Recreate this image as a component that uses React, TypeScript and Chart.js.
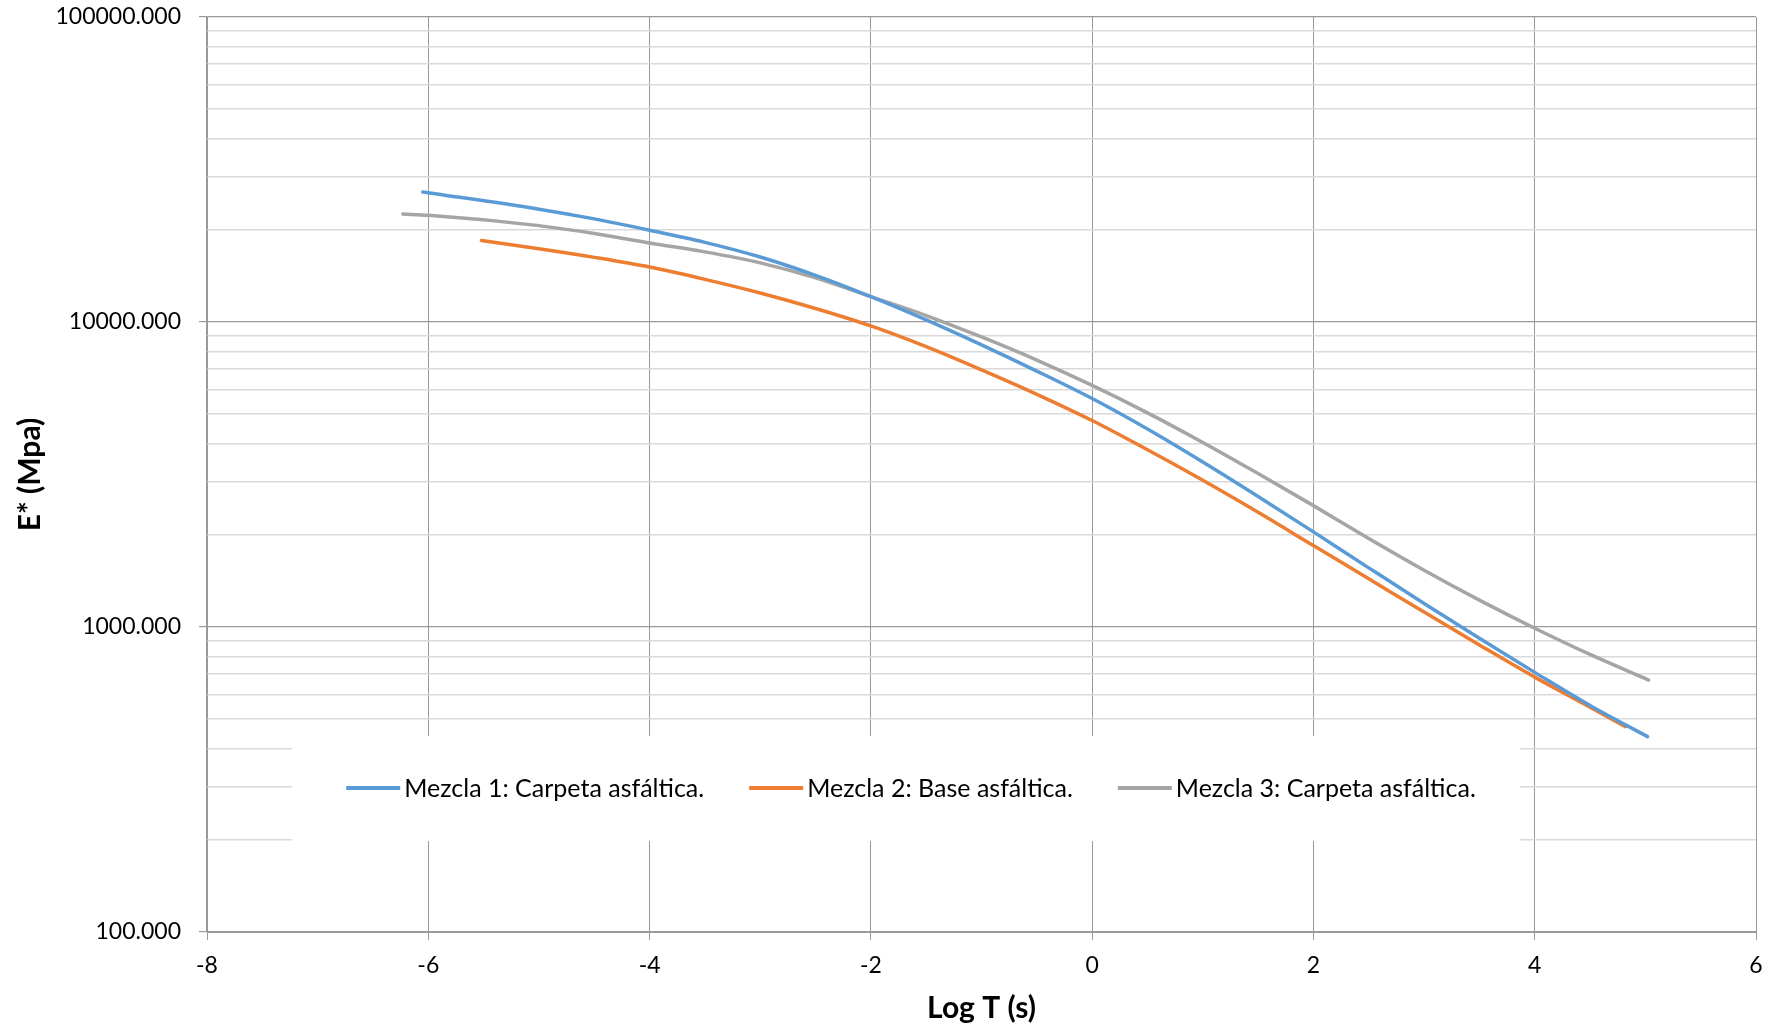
import React, { useEffect, useRef } from 'react';
import { Chart, registerables } from 'chart.js';

Chart.register(...registerables);

// ---- Data ----
const mezcla1LogT = [-6.05, -5, -4.5, -4, -3.5, -3, -2.5, -2, -1.5, -1, -0.5, 0, 0.5, 1, 1.5, 2, 2.5, 3, 3.5, 4, 4.5, 5.02];
const mezcla1E = [26700, 23440, 21780, 20000, 18240, 16330, 14220, 12110, 10160, 8414, 6902, 5610, 4457, 3475, 2679, 2051, 1563, 1194, 918, 710, 553, 437];

const mezcla2LogT = [-5.52, -5, -4.5, -4, -3.5, -3, -2.5, -2, -1.5, -1, -0.5, 0, 0.5, 1, 1.5, 2, 2.5, 3, 3.5, 4, 4.5, 4.82];
const mezcla2E = [18490, 17380, 16290, 15140, 13800, 12450, 11070, 9705, 8299, 6966, 5794, 4753, 3811, 3027, 2377, 1849, 1439, 1119, 873, 685, 546, 471];

const mezcla3LogT = [-6.23, -6, -5, -4.5, -4, -3.5, -3, -2.5, -2, -1.5, -1, -0.5, 0, 0.5, 1, 1.5, 2, 2.5, 3, 3.5, 4, 4.5, 5.03];
const mezcla3E = [22590, 22390, 20700, 19500, 18160, 16980, 15630, 13960, 12110, 10500, 8930, 7500, 6194, 5035, 4027, 3184, 2500, 1950, 1535, 1225, 991, 813, 670];

const seriesLabels = [
  'Mezcla 1: Carpeta asfáltica.',
  'Mezcla 2: Base asfáltica.',
  'Mezcla 3: Carpeta asfáltica.',
];
const seriesColors = ['#5B9BD5', '#ED7D31', '#A5A5A5'];

const xMin = -8;
const xMax = 6;
const xStep = 2;
const yMin = 100;
const yMax = 100000;

const xTitle = 'Log T (s)';
const yTitle = 'E* (Mpa)';

const FONT = 'Lato, "Open Sans", "DejaVu Sans", sans-serif';

const isDecade = (v: number) => {
  const l = Math.log10(v);
  return Math.abs(l - Math.round(l)) < 1e-9;
};

const toPoints = (xs: number[], ys: number[]) => xs.map((x, i) => ({ x, y: ys[i] }));

const legendBoxPlugin = {
  id: 'legendBox',
  afterDatasetsDraw(chart: any) {
    const ctx: CanvasRenderingContext2D = chart.ctx;
    const box = { left: 292, top: 736, right: 1520, bottom: 841 };
    ctx.save();
    ctx.fillStyle = '#ffffff';
    ctx.fillRect(box.left, box.top, box.right - box.left, box.bottom - box.top);
    ctx.font = `25px ${FONT}`;
    const sample = 54;
    const gapText = 4;
    const gapItem = 45;
    const items = chart.data.datasets.map((ds: any) => ({
      label: ds.label as string,
      color: ds.borderColor as string,
      w: ctx.measureText(ds.label).width,
    }));
    const total =
      items.reduce((s: number, it: any) => s + sample + gapText + it.w, 0) + gapItem * (items.length - 1);
    let x = (box.left + box.right) / 2 + 5 - total / 2;
    const y = 788;
    ctx.textBaseline = 'middle';
    ctx.textAlign = 'left';
    for (const it of items) {
      ctx.strokeStyle = it.color;
      ctx.lineWidth = 4;
      ctx.lineCap = 'butt';
      ctx.beginPath();
      ctx.moveTo(x, y);
      ctx.lineTo(x + sample, y);
      ctx.stroke();
      x += sample + gapText;
      ctx.fillStyle = '#000000';
      ctx.fillText(it.label, x, y + 1);
      x += it.w + gapItem;
    }
    ctx.restore();
  },
};

export default function App() {
  const canvasRef = useRef<HTMLCanvasElement | null>(null);

  useEffect(() => {
    if (!canvasRef.current) return;
    const datasets = [
      toPoints(mezcla1LogT, mezcla1E),
      toPoints(mezcla2LogT, mezcla2E),
      toPoints(mezcla3LogT, mezcla3E),
    ].map((data, i) => ({
      label: seriesLabels[i],
      data,
      borderColor: seriesColors[i],
      backgroundColor: seriesColors[i],
      borderWidth: 3.5,
      pointRadius: 0,
      pointHoverRadius: 0,
      cubicInterpolationMode: 'monotone' as const,
      borderCapStyle: 'round' as const,
      borderJoinStyle: 'round' as const,
      fill: false,
    }));

    const chart = new Chart(canvasRef.current, {
      type: 'line',
      data: { datasets },
      plugins: [legendBoxPlugin],
      options: {
        animation: false,
        responsive: false,
        devicePixelRatio: 1,
        layout: { padding: { left: 0, right: 15, top: 17, bottom: 0 } },
        plugins: {
          legend: { display: false },
          title: { display: false },
          tooltip: { enabled: false },
        },
        scales: {
          x: {
            type: 'linear',
            min: xMin,
            max: xMax,
            afterFit: (scale: any) => {
              scale.height = 99;
              scale.paddingLeft = 0;
              scale.paddingRight = 0;
            },
            ticks: {
              stepSize: xStep,
              color: '#000000',
              font: { family: FONT, size: 23 },
              padding: 12,
              maxRotation: 0,
            },
            grid: {
              color: '#999999',
              lineWidth: 1,
              tickLength: 8,
              tickColor: '#999999',
            },
            border: { display: true, color: '#999999', width: 1 },
            title: {
              display: true,
              text: xTitle,
              color: '#000000',
              font: { family: FONT, size: 30, weight: 'bold' },
              padding: { top: 0, bottom: 4.5 },
            },
          },
          y: {
            type: 'logarithmic',
            min: yMin,
            max: yMax,
            afterFit: (scale: any) => {
              scale.width = 207;
              scale.paddingTop = 0;
              scale.paddingBottom = 0;
            },
            afterBuildTicks: (scale: any) => {
              const ticks: any[] = [];
              for (let d = yMin; d <= yMax; d *= 10) {
                for (let m = 1; m <= 9; m++) {
                  const v = m * d;
                  if (v > yMax) break;
                  ticks.push({ value: v, major: m === 1 });
                }
              }
              scale.ticks = ticks;
            },
            ticks: {
              autoSkip: false,
              color: '#000000',
              font: { family: FONT, size: 23 },
              padding: 18,
              callback: (value: any) => (isDecade(Number(value)) ? Number(value).toFixed(3) : ''),
            },
            grid: {
              color: (ctx: any) => (ctx.tick && isDecade(ctx.tick.value) ? '#999999' : '#d9d9d9'),
              lineWidth: (ctx: any) => (ctx.tick && isDecade(ctx.tick.value) ? 1.2 : 1.5),
              tickLength: 8,
              tickColor: (ctx: any) => (ctx.tick && isDecade(ctx.tick.value) ? '#999999' : 'rgba(0,0,0,0)'),
            },
            border: { display: true, color: '#999999', width: 1.2 },
            title: {
              display: true,
              text: yTitle,
              color: '#000000',
              font: { family: FONT, size: 30, weight: 'bold' },
              padding: { top: 12.5, bottom: 0 },
            },
          },
        },
      },
    });

    let alive = true;
    if ((document as any).fonts && (document as any).fonts.ready) {
      (document as any).fonts.ready.then(() => {
        if (alive) chart.update();
      });
    }

    return () => {
      alive = false;
      chart.destroy();
    };
  }, []);

  return (
    <div style={{ position: 'fixed', left: 0, top: 0, width: 1771, height: 1031, background: '#ffffff' }}>
      <canvas ref={canvasRef} width={1771} height={1031} style={{ display: 'block' }} />
    </div>
  );
}
